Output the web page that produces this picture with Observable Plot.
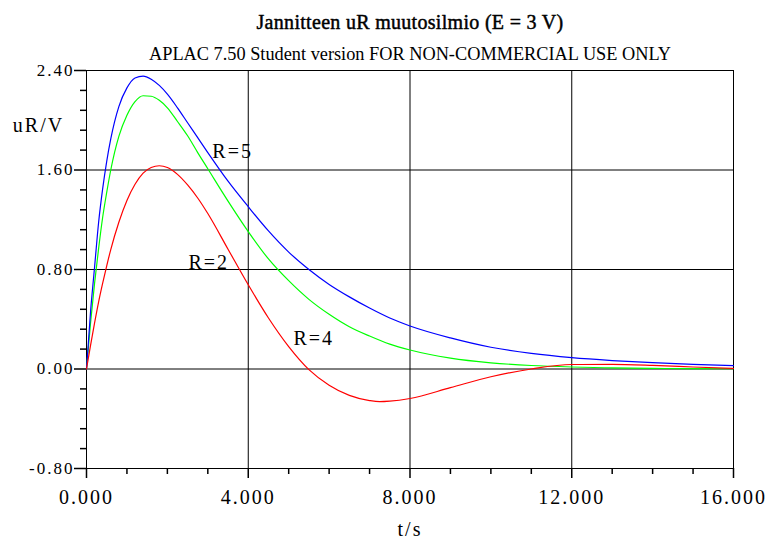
<!DOCTYPE html>
<html>
<head>
<meta charset="utf-8">
<script src="https://cdn.jsdelivr.net/npm/d3@7"></script>
<script src="https://cdn.jsdelivr.net/npm/@observablehq/plot@0.6"></script>
<style>
  html, body { margin: 0; padding: 0; background: #fff; }
  #chart svg { display: block; }
</style>
</head>
<body>
<div id="chart"></div>
<script>
// Time samples (s)
const tValues = [0, 0.1, 0.2, 0.3, 0.4, 0.5, 0.6, 0.8, 1.0, 1.2, 1.4, 1.6, 1.8, 2.0, 2.25, 2.5, 2.75, 3.0, 3.5, 4.0, 4.5, 5.0, 5.5, 6.0, 6.5, 7.0, 7.5, 8.0, 9.0, 10.0, 11.0, 12.0, 13.0, 14.0, 15.0, 16.0];
// uR (V)
const blueValues  = [0, 0.46, 0.82, 1.18, 1.45, 1.67, 1.85, 2.11, 2.26, 2.34, 2.355, 2.33, 2.28, 2.21, 2.10, 1.98, 1.86, 1.74, 1.51, 1.305, 1.11, 0.94, 0.80, 0.68, 0.58, 0.49, 0.41, 0.346, 0.25, 0.175, 0.125, 0.091, 0.068, 0.051, 0.037, 0.027];
const greenValues = [0, 0.37, 0.69, 0.97, 1.22, 1.42, 1.60, 1.87, 2.04, 2.15, 2.197, 2.193, 2.16, 2.10, 1.99, 1.875, 1.74, 1.61, 1.35, 1.105, 0.885, 0.71, 0.56, 0.44, 0.34, 0.265, 0.20, 0.153, 0.088, 0.050, 0.028, 0.016, 0.009, 0.005, 0.003, 0.002];
// Red curve has its own samples (denser around its minimum)
const tRed      = [0, 0.1, 0.2, 0.3, 0.4, 0.5, 0.6, 0.8, 1.0, 1.2, 1.4, 1.6, 1.8, 2.0, 2.25, 2.5, 2.75, 3.0, 3.5, 4.0, 4.5, 5.0, 5.5, 6.0, 6.5, 7.0, 7.25, 7.5, 8.0, 9.0, 10.0, 11.0, 12.0, 13.0, 14.0, 15.0, 16.0];
const redValues = [0, 0.19, 0.37, 0.54, 0.69, 0.83, 0.96, 1.18, 1.355, 1.485, 1.575, 1.62, 1.634, 1.62, 1.565, 1.48, 1.375, 1.25, 0.963, 0.677, 0.41, 0.18, -0.005, -0.13, -0.212, -0.254, -0.263, -0.259, -0.237, -0.15, -0.062, 0.0, 0.036, 0.037, 0.029, 0.016, 0.004];

// Curve labels (text, t, uR at baseline)
const labelTexts = ["R=5", "R=2", "R=4"];
const labelT = [3.615, 3.024, 5.62];
const labelV = [1.694, 0.801, 0.193];

// Axis ticks
const xMajor = [0, 4, 8, 12, 16];
const xMinor = [1, 2, 3, 5, 6, 7, 9, 10, 11, 13, 14, 15];
const yMajor = [-0.8, 0, 0.8, 1.6, 2.4];
const yMinor = [-0.64, -0.48, -0.32, -0.16, 0.16, 0.32, 0.48, 0.64, 0.96, 1.12, 1.28, 1.44, 1.76, 1.92, 2.08, 2.24];

const titleText = "Jannitteen uR muutosilmio (E = 3 V)";
const subtitleText = "APLAC 7.50 Student version FOR NON-COMMERCIAL USE ONLY";
const xLabel = "t/s";
const yLabel = "uR/V";

const toRows = (ts, vals) => ts.map((t, i) => ({t, v: vals[i]}));
const labels = labelTexts.map((s, i) => ({s, t: labelT[i], v: labelV[i]}));

const chart = Plot.plot({
  width: 769,
  height: 539,
  marginLeft: 86,
  marginRight: 36,
  marginTop: 70,
  marginBottom: 71,
  style: {fontFamily: "'Liberation Serif', 'Times New Roman', serif", background: "#fff", color: "#000"},
  x: {domain: [0, 16]},
  y: {domain: [-0.8, 2.4]},
  marks: [
    Plot.ruleX(xMajor, {stroke: "#000", strokeWidth: 1}),
    Plot.ruleY(yMajor, {stroke: "#000", strokeWidth: 1}),
    Plot.axisY(yMajor, {tickSize: 12, tickPadding: 0, tickFormat: d => d.toFixed(2), fontSize: 17, label: null, stroke: "#000", strokeWidth: 1.5}),
    Plot.axisY(yMinor, {tickSize: 6, tickFormat: () => "", label: null, stroke: "#000", strokeWidth: 1.5}),
    Plot.axisX(xMajor, {tickSize: 10, tickPadding: 11, tickFormat: d => d.toFixed(3), fontSize: 20, label: null, stroke: "#000", strokeWidth: 1.5}),
    Plot.axisX(xMinor, {tickSize: 6, tickFormat: () => "", label: null, stroke: "#000", strokeWidth: 1.5}),
    Plot.line(toRows(tValues, greenValues), {x: "t", y: "v", stroke: "#00ff00", strokeWidth: 1.2, curve: "monotone-x"}),
    Plot.line(toRows(tValues, blueValues), {x: "t", y: "v", stroke: "#0000ff", strokeWidth: 1.2, curve: "monotone-x"}),
    Plot.line(toRows(tRed, redValues), {x: "t", y: "v", stroke: "#ff0000", strokeWidth: 1.2, curve: "monotone-x"}),
    Plot.text(labels, {x: "t", y: "v", text: "s", fontSize: 20, lineAnchor: "bottom", fill: "#000"}),
    Plot.text([titleText], {frameAnchor: "top", dy: -42, lineAnchor: "bottom", fontSize: 20, fill: "#000", stroke: "#000", strokeWidth: 0.45}),
    Plot.text([subtitleText], {frameAnchor: "top", dy: -11, lineAnchor: "bottom", fontSize: 18, fill: "#000"}),
    Plot.text([xLabel], {frameAnchor: "bottom", dy: 67, lineAnchor: "bottom", fontSize: 20, fill: "#000"}),
    Plot.text([yLabel], {frameAnchor: "top-left", dx: -48, dy: 61, textAnchor: "middle", lineAnchor: "bottom", fontSize: 20, fill: "#000"})
  ]
});
document.getElementById("chart").appendChild(chart);
const texts = d3.select(chart).selectAll("text");
texts.style("letter-spacing", "2px");
texts.filter(function() { return this.textContent === titleText; }).style("letter-spacing", "0.3px");
texts.filter(function() { return this.textContent === subtitleText; })
  .style("letter-spacing", "0px")
  .attr("textLength", 522)
  .attr("lengthAdjust", "spacingAndGlyphs");
</script>
</body>
</html>
